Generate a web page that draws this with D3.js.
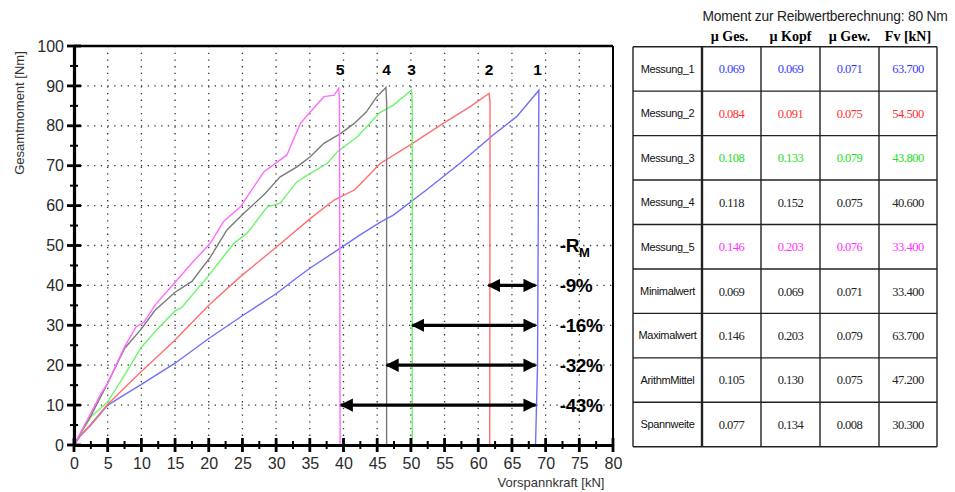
<!DOCTYPE html>
<html>
<head>
<meta charset="utf-8">
<script src="https://cdn.jsdelivr.net/npm/d3@7"></script>
<style>
  body { margin: 0; background: #fff; }
  svg { display: block; }
</style>
</head>
<body>
<svg id="chart" width="955" height="492"></svg>
<script>
// measured curves: [Vorspannkraft kN, Gesamtmoment Nm]
var curve1 = [[0,0],[1,2.4],[2.5,5],[5,10],[10,15.2],[15,20.5],[20,26.7],[25,32.4],[30,37.9],[32.6,41.3],[35,44.3],[39.6,49.4],[42.4,52.6],[45.6,56],[47.4,57.6],[52.3,63.9],[57.3,70.6],[62.2,77.7],[65.7,82.3],[69,88.9],[68.8,20],[68.5,0],[67.5,0]];
var curve2 = [[0,0],[1,2.5],[2.5,5.2],[5,10.2],[10,18.4],[15,26.3],[20,35],[24.7,42.2],[30.1,49.7],[35.1,56.8],[38.6,61.4],[41.6,63.9],[42.4,65.2],[45.4,70.5],[49.9,75.2],[54.8,80.6],[58.8,84.8],[61.6,88.1],[61.75,86],[61.7,0]];
var curve3 = [[0,0],[1,3],[2.5,7],[5,10.8],[7.5,17.5],[10,24.5],[12.4,29.1],[15,33.6],[16,34.5],[20,42.5],[23.7,50.5],[25.7,53.1],[28.7,59.7],[30.6,60.6],[33.1,66],[35.1,68.1],[37.6,70.6],[39.1,73.5],[42.1,77.3],[45.4,83.3],[47.4,85.2],[50.1,89],[50.2,86],[50.2,0]];
var curve4 = [[0,0],[1,3],[2.5,7.3],[5,15.5],[7.5,24.2],[10,29.1],[12,33.7],[15,38.3],[17.5,41],[20.2,47],[22.7,53.9],[25.2,58.1],[28.2,62.7],[30.6,67.2],[33.1,69.7],[35.1,72.3],[37.1,75.6],[39.6,78.1],[41.6,80.6],[43.4,83.5],[44.9,87.2],[46.3,89.6],[46.4,86],[46.4,0]];
var curve5 = [[0,0],[1,3.2],[2.5,8],[4,12.9],[5,15.5],[7.5,24.6],[9.2,29.6],[10.4,30.8],[12,35],[15,40.8],[17.7,46],[20.2,50.5],[22.2,56],[24.7,59.7],[28.2,68.5],[29.6,70.2],[31.6,72.7],[33.6,80.6],[35.1,83.5],[37.1,87.3],[38.6,87.7],[39.3,89.4],[39.4,86],[39.5,0]];

var curves = [curve1, curve2, curve3, curve4, curve5];
var curveNames = ["1", "2", "3", "4", "5"];
var curveColors = ["#6f6fff", "#ff6f6f", "#6cf46c", "#7a7a7a", "#ff6cff"];
var peakFv = [68.8, 61.6, 50.1, 46.4, 39.5];

// reduction arrows (from Fv of measurement n to Fv of measurement 1)
var arrowFrom = [61.5, 50.2, 46.4, 39.6];
var arrowTo = [68.5, 68.5, 68.5, 68.5];
var arrowY = [40, 30, 20, 10];
var arrowLabels = ["-9%", "-16%", "-32%", "-43%"];

var xTicks = d3.range(0, 81, 5);
var yTicks = d3.range(0, 101, 10);

// table
var tableTitle = "Moment zur Reibwertberechnung: 80 Nm";
var tableHeaders = ["\u00b5 Ges.", "\u00b5 Kopf", "\u00b5 Gew.", "Fv [kN]"];
var rowLabels = ["Messung_1","Messung_2","Messung_3","Messung_4","Messung_5","Minimalwert","Maximalwert","ArithmMittel","Spannweite"];
var muGes  = [0.069, 0.084, 0.108, 0.118, 0.146, 0.069, 0.146, 0.105, 0.077];
var muKopf = [0.069, 0.091, 0.133, 0.152, 0.203, 0.069, 0.203, 0.130, 0.134];
var muGew  = [0.071, 0.075, 0.079, 0.075, 0.076, 0.071, 0.079, 0.075, 0.008];
var fvKN   = [63.7, 54.5, 43.8, 40.6, 33.4, 33.4, 63.7, 47.2, 30.3];
var rowColors = ["#3a3aff", "#ff3030", "#22e022", "#222", "#ff30ff", "#222", "#222", "#222", "#222"];

var svg = d3.select('#chart');

var x = d3.scaleLinear().domain([0, 80]).range([74, 613]);
var y = d3.scaleLinear().domain([0, 100]).range([445, 46]);

// dotted grid
var grid = svg.append('g');
grid.selectAll('line.gx')
  .data(xTicks.filter(function (d) { return d > 0 && d < 80; }))
  .enter().append('line')
  .attr('x1', function (d) { return x(d); }).attr('x2', function (d) { return x(d); })
  .attr('y1', y(100)).attr('y2', y(0))
  .attr('stroke', '#333').attr('stroke-width', 1.3).attr('stroke-dasharray', '1.3,5.4');
grid.selectAll('line.gy')
  .data(yTicks.filter(function (d) { return d > 0 && d < 100; }))
  .enter().append('line')
  .attr('y1', function (d) { return y(d); }).attr('y2', function (d) { return y(d); })
  .attr('x1', x(0)).attr('x2', x(80))
  .attr('stroke', '#333').attr('stroke-width', 1.3).attr('stroke-dasharray', '1.3,5.4');

// curves
var line = d3.line().x(function (d) { return x(d[0]); }).y(function (d) { return y(d[1]); });
svg.append('g').selectAll('path')
  .data(curves)
  .enter().append('path')
  .attr('d', line)
  .attr('fill', 'none')
  .attr('stroke', function (d, i) { return curveColors[i]; })
  .attr('stroke-width', 1.4);

// frame
svg.append('line').attr('x1', x(0)).attr('x2', x(80)).attr('y1', y(100)).attr('y2', y(100)).attr('stroke', '#000').attr('stroke-width', 2.5);
svg.append('line').attr('x1', x(80)).attr('x2', x(80)).attr('y1', y(100)).attr('y2', y(0)).attr('stroke', '#000').attr('stroke-width', 2);

// axes
var xAxis = svg.append('g').attr('transform', 'translate(0,' + y(0) + ')')
  .call(d3.axisBottom(x).tickValues(xTicks).tickSize(0).tickPadding(10));
var yAxis = svg.append('g').attr('transform', 'translate(' + x(0) + ',0)')
  .call(d3.axisLeft(y).tickValues(yTicks).tickSize(0).tickPadding(10));
[xAxis, yAxis].forEach(function (a) {
  a.select('.domain').attr('stroke', '#000').attr('stroke-width', 3.2);
  a.selectAll('text').attr('font-family', 'Liberation Sans, Arial, sans-serif')
    .attr('font-size', 16).attr('fill', '#2a2a2a');
});
xAxis.selectAll('text').attr('dy', '0.9em');

// crossing tick marks
var ticks = svg.append('g').attr('stroke', '#000');
ticks.selectAll('line.mx').data(xTicks).enter().append('line')
  .attr('x1', function (d) { return x(d); }).attr('x2', function (d) { return x(d); })
  .attr('y1', y(0) - 7).attr('y2', y(0) + 7).attr('stroke-width', 2.8);
ticks.selectAll('line.nx').data(d3.range(2.5, 80, 5)).enter().append('line')
  .attr('x1', function (d) { return x(d); }).attr('x2', function (d) { return x(d); })
  .attr('y1', y(0) - 4).attr('y2', y(0) + 4).attr('stroke-width', 2);
ticks.selectAll('line.my').data(yTicks).enter().append('line')
  .attr('y1', function (d) { return y(d); }).attr('y2', function (d) { return y(d); })
  .attr('x1', x(0) - 7).attr('x2', x(0) + 7).attr('stroke-width', 2.8);
ticks.selectAll('line.ny').data(d3.range(5, 100, 10)).enter().append('line')
  .attr('y1', function (d) { return y(d); }).attr('y2', function (d) { return y(d); })
  .attr('x1', x(0) - 4).attr('x2', x(0) + 4).attr('stroke-width', 2);

// axis titles
svg.append('text').attr('transform', 'translate(19,113) rotate(-90)')
  .attr('text-anchor', 'middle').attr('dy', '0.35em')
  .attr('font-family', 'Liberation Sans, Arial, sans-serif').attr('font-size', 13).attr('fill', '#333')
  .text('Gesamtmoment [Nm]');
svg.append('text').attr('x', 551).attr('y', 487)
  .attr('text-anchor', 'middle')
  .attr('font-family', 'Liberation Sans, Arial, sans-serif').attr('font-size', 13).attr('fill', '#333')
  .text('Vorspannkraft [kN]');

// curve numbers
svg.append('g').selectAll('text').data(curveNames).enter().append('text')
  .attr('x', function (d, i) { return x(peakFv[i]); })
  .attr('y', y(94.2))
  .attr('text-anchor', 'middle').attr('dy', '0.35em')
  .attr('font-family', 'Liberation Sans, Arial, sans-serif').attr('font-weight', 'bold').attr('font-size', 15.5)
  .text(function (d) { return d; });

// arrows
var defs = svg.append('defs');
defs.append('marker').attr('id', 'ah').attr('viewBox', '0 0 10 10')
  .attr('refX', 9).attr('refY', 5).attr('markerWidth', 4.2).attr('markerHeight', 4.2)
  .attr('markerUnits', 'strokeWidth').attr('orient', 'auto-start-reverse')
  .append('path').attr('d', 'M0,0 L10,5 L0,10 Z').attr('fill', '#000');
svg.append('g').selectAll('line').data(arrowY).enter().append('line')
  .attr('x1', function (d, i) { return x(arrowFrom[i]); })
  .attr('x2', function (d, i) { return x(arrowTo[i]); })
  .attr('y1', function (d) { return y(d); }).attr('y2', function (d) { return y(d); })
  .attr('stroke', '#000').attr('stroke-width', 3.2)
  .attr('marker-start', 'url(#ah)').attr('marker-end', 'url(#ah)');
svg.append('g').selectAll('text').data(arrowLabels).enter().append('text')
  .attr('x', x(72.1)).attr('y', function (d, i) { return y(arrowY[i]); })
  .attr('dy', '0.36em')
  .attr('font-family', 'Liberation Sans, Arial, sans-serif').attr('font-weight', 'bold').attr('font-size', 19)
  .attr('letter-spacing', -0.4)
  .text(function (d) { return d; });
var rm = svg.append('text').attr('x', x(72.1)).attr('y', y(50)).attr('dy', '0.36em')
  .attr('font-family', 'Liberation Sans, Arial, sans-serif').attr('font-weight', 'bold').attr('font-size', 19)
  .attr('letter-spacing', -0.4);
rm.append('tspan').text('-R');
rm.append('tspan').attr('font-size', 13).attr('dy', '0.35em').text('M');

// table
var colX = [633, 702, 761, 820, 879, 937];
var rowH = 44.45, tableTop = 46.7;
var tbl = svg.append('g');
tbl.append('text').attr('x', 825).attr('y', 16).attr('text-anchor', 'middle').attr('dy', '0.35em')
  .attr('font-family', 'Liberation Sans, Arial, sans-serif').attr('font-size', 13.8).attr('fill', '#222')
  .attr('letter-spacing', -0.2)
  .text(tableTitle);
tbl.selectAll('text.h').data(tableHeaders).enter().append('text')
  .attr('x', function (d, i) { return (colX[i + 1] + colX[i + 2]) / 2 - (i === 0 ? 2 : 0); })
  .attr('y', 36).attr('text-anchor', 'middle').attr('dy', '0.35em')
  .attr('font-family', 'Liberation Serif, Times New Roman, serif').attr('font-weight', 'bold').attr('font-size', 14)
  .text(function (d) { return d; });

var tableCols = [muGes, muKopf, muGew, fvKN];
var fmt = d3.format('.3f');
rowLabels.forEach(function (lab, r) {
  var cy = tableTop + rowH * r + rowH / 2;
  tbl.append('text').attr('x', (colX[0] + colX[1]) / 2).attr('y', cy).attr('dy', '0.35em')
    .attr('text-anchor', 'middle')
    .attr('font-family', 'Liberation Sans, Arial, sans-serif').attr('font-size', 11).attr('letter-spacing', -0.35)
    .attr('fill', '#111').text(lab);
  tableCols.forEach(function (col, c) {
    tbl.append('text').attr('x', (colX[c + 1] + colX[c + 2]) / 2).attr('y', cy).attr('dy', '0.35em')
      .attr('text-anchor', 'middle')
      .attr('font-family', 'Liberation Serif, Times New Roman, serif').attr('font-size', 12.5).attr('letter-spacing', -0.5)
      .attr('fill', rowColors[r]).text(fmt(col[r]));
  });
});
d3.range(rowLabels.length + 1).forEach(function (r) {
  tbl.append('line').attr('x1', colX[0]).attr('x2', colX[5])
    .attr('y1', tableTop + rowH * r).attr('y2', tableTop + rowH * r)
    .attr('stroke', '#222').attr('stroke-width', 1.4);
});
colX.forEach(function (cx, c) {
  tbl.append('line').attr('x1', cx).attr('x2', cx)
    .attr('y1', tableTop).attr('y2', tableTop + rowH * rowLabels.length)
    .attr('stroke', '#222').attr('stroke-width', c === 1 ? 2.4 : 1.4);
});
</script>
</body>
</html>
